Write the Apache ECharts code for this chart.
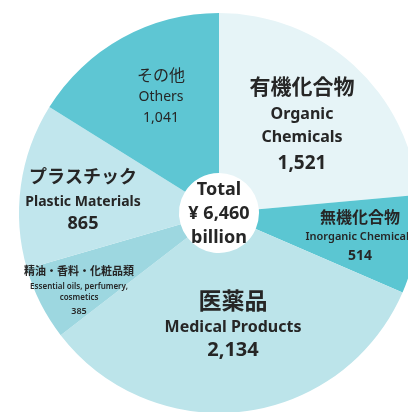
<!DOCTYPE html>
<html>
<head>
<meta charset="utf-8">
<script src="https://cdn.jsdelivr.net/npm/echarts@6/dist/echarts.min.js"></script>
<style>
  html, body { margin: 0; padding: 0; background: #fff; }
  #chart { width: 408px; height: 412px; }
</style>
</head>
<body>
<div id="chart"></div>
<script>
// data, clockwise from 12 o'clock
const namesJa = ['有機化合物', '無機化合物', '医薬品', '精油・香料・化粧品類', 'プラスチック', 'その他'];
const namesEn = ['Organic\nChemicals', 'Inorganic Chemicals', 'Medical Products', 'Essential oils, perfumery,\ncosmetics', 'Plastic Materials', 'Others'];
const values = [1521, 514, 2134, 385, 865, 1041];
const colors = ['#e6f4f7', '#5bc6d2', '#bce4ea', '#9dd7e0', '#c1e6ed', '#5ec6d3'];
const totalLines = ['Total', '¥ 6,460', 'billion'];

const fmt = v => v.toLocaleString('en-US');
const font = '"Noto Sans", "Noto Sans CJK JP", sans-serif';
const dark = '#262626';

var chartDom = document.getElementById('chart');
var myChart = echarts.init(chartDom);

// label layout per slice: [x, yJa, yEn, yVal, sizeJa, sizeEn, sizeVal, weightJa, weightEn, weightVal, lineEn]
const labelPos = [
  [302, 88, 126, 164, 21, 16, 19, 'bold', 'bold', 'bold', 23],
  [360, 218, 237, 256, 16, 11, 14, 'bold', '600', 'bold', 14],
  [233, 302, 327, 350, 23, 16, 20, 'bold', 'bold', 'bold', 18],
  [79, 272, 292, 311, 11, 8, 9, 'bold', '600', '600', 11],
  [83, 178, 202, 224, 18, 14, 18, 'bold', 'bold', 'bold', 16],
  [161, 76, 97, 118, 16, 14, 14, 'normal', 'normal', 'normal', 16]
];

const texts = [];
const addText = (x, y, text, fontStr, extra) => {
  texts.push({ type: 'text', x: x, y: y, z: 100,
    style: Object.assign({ text: text, font: fontStr, fill: dark, align: 'center', verticalAlign: 'middle' }, extra || {}) });
};
labelPos.forEach((p, i) => {
  addText(p[0], p[1], namesJa[i], p[7] + ' ' + p[4] + 'px ' + font);
  addText(p[0], p[2], namesEn[i], p[8] + ' ' + p[5] + 'px ' + font, { lineHeight: p[10] });
  addText(p[0], p[3], fmt(values[i]), p[9] + ' ' + p[6] + 'px ' + font);
});
totalLines.forEach((t, i) => {
  addText(219, 190 + i * 24, t, 'bold 18px ' + font);
});

var option = {
  animation: false,
  graphic: { elements: texts },
  series: [
    {
      type: 'pie',
      center: [219, 213],
      radius: [40, 200],
      startAngle: 90,
      clockwise: true,
      silent: true,
      z: 1,
      label: { show: false },
      labelLine: { show: false },
      itemStyle: { borderWidth: 0 },
      data: values.map((v, i) => ({ value: v, name: namesJa[i], itemStyle: { color: colors[i] } }))
    }
  ]
};

myChart.setOption(option);
</script>
</body>
</html>
